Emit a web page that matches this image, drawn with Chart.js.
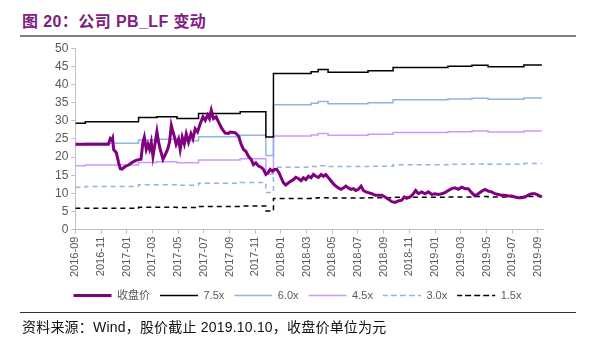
<!DOCTYPE html>
<html>
<head>
<meta charset="utf-8">
<script src="https://cdn.jsdelivr.net/npm/chart.js@4.4.0/dist/chart.umd.min.js"></script>
<style>
  body { margin: 0; width: 589px; height: 349px; background: #fff; position: relative; overflow: hidden;
         font-family: "Liberation Sans", Arial, "Noto Sans CJK SC", sans-serif; }
  #title { position: absolute; left: 22px; top: 8px; font-size: 16px; font-weight: bold; color: #80207f; letter-spacing: 0.4px; }
  #topRule { position: absolute; left: 20px; top: 35px; width: 556px; height: 2px; background: #7f7f7f; }
  #chartBox { position: absolute; left: 0; top: 38px; width: 589px; height: 275px; }
  #footRule { position: absolute; left: 20px; top: 312px; width: 556px; height: 1px; background: #333; }
  #source { position: absolute; left: 22px; top: 316px; font-size: 14px; color: #111; letter-spacing: 0.2px; }
</style>
</head>
<body>
<div id="title">图 20：公司 PB_LF 变动</div>
<div id="topRule"></div>
<div id="chartBox"><canvas id="pbChart" width="589" height="275"></canvas></div>
<div id="footRule"></div>
<div id="source">资料来源：Wind，股价截止 2019.10.10，收盘价单位为元</div>

<script>
// x values are months counted from 2016-09
const tickLabels = [
  "2016-09", "2016-11", "2017-01", "2017-03", "2017-05", "2017-07", "2017-09",
  "2017-11", "2018-01", "2018-03", "2018-05", "2018-07", "2018-09", "2018-11",
  "2019-01", "2019-03", "2019-05", "2019-07", "2019-09",
];

// closing price, [month, price]
const closeSeries = [
  [0, 23.5], [2.57, 23.5], [2.72, 25.1], [2.85, 24.6], [2.9, 25.1], [2.98, 22.1],
  [3.19, 21.2], [3.37, 18.4], [3.5, 16.8], [3.63, 16.7], [3.89, 17.4], [4.14, 17.8],
  [4.41, 18.5], [4.67, 19.0], [4.92, 19.3], [5.11, 19.4], [5.26, 24.1], [5.37, 25.5],
  [5.52, 22.1], [5.65, 23.5], [5.78, 22.1], [5.91, 24.1], [6.04, 20.2], [6.22, 24.1],
  [6.35, 27.0], [6.48, 24.1], [6.61, 22.1], [6.82, 19.4], [7.0, 20.7], [7.18, 22.1],
  [7.33, 24.1], [7.47, 28.7], [7.6, 26.9], [7.72, 25.5], [7.85, 23.5], [8.03, 25.0],
  [8.16, 22.1], [8.32, 25.5], [8.48, 23.6], [8.63, 26.4], [8.81, 24.1], [9.0, 26.4],
  [9.15, 25.0], [9.33, 27.8], [9.51, 26.9], [9.72, 29.2], [9.93, 31.1], [10.11, 30.1],
  [10.29, 31.6], [10.44, 30.6], [10.58, 32.9], [10.75, 30.6], [10.96, 31.1], [11.14, 29.7],
  [11.41, 27.8], [11.66, 26.6], [11.92, 26.5], [12.05, 26.9], [12.44, 26.7], [12.7, 25.8],
  [12.91, 23.5], [13.09, 22.1], [13.27, 21.6], [13.48, 20.2], [13.69, 19.3], [13.86, 17.9],
  [14.05, 18.4], [14.25, 17.5], [14.46, 17.2], [14.64, 16.6], [14.83, 15.2], [14.98, 15.6],
  [15.16, 16.6], [15.34, 16.1], [15.5, 16.6], [15.68, 16.6], [15.86, 15.6], [16.02, 14.3],
  [16.2, 12.9], [16.38, 12.3], [16.59, 12.9], [16.8, 13.4], [16.98, 13.8], [17.16, 14.4],
  [17.36, 14.1], [17.57, 13.5], [17.75, 14.3], [17.94, 13.8], [18.14, 14.7], [18.35, 14.3],
  [18.53, 15.2], [18.72, 14.7], [18.92, 14.4], [19.13, 15.2], [19.31, 14.7], [19.5, 15.2],
  [19.7, 14.3], [19.91, 13.4], [20.09, 12.6], [20.27, 12.0], [20.47, 11.5], [20.68, 11.1],
  [20.86, 11.5], [21.05, 12.0], [21.25, 11.5], [21.46, 11.1], [21.64, 11.3], [21.83, 10.8],
  [22.03, 11.1], [22.24, 12.0], [22.42, 10.8], [22.61, 10.4], [22.81, 10.2], [23.07, 9.9],
  [23.33, 9.5], [23.58, 9.5], [23.85, 9.5], [24.11, 9.0], [24.36, 8.4], [24.63, 7.7],
  [24.88, 7.5], [25.14, 7.9], [25.4, 8.1], [25.61, 9.0], [25.79, 8.6], [26.05, 9.0],
  [26.31, 9.9], [26.49, 10.8], [26.7, 9.9], [26.96, 10.4], [27.22, 9.9], [27.47, 10.4],
  [27.74, 9.7], [27.99, 9.9], [28.25, 9.7], [28.52, 9.9], [28.77, 10.2], [29.03, 10.8],
  [29.29, 11.3], [29.55, 11.5], [29.81, 11.1], [30.07, 11.7], [30.33, 11.3], [30.58, 11.3],
  [30.85, 10.2], [31.1, 9.3], [31.36, 9.9], [31.63, 10.6], [31.88, 11.1], [32.14, 10.6],
  [32.4, 10.4], [32.66, 9.9], [32.91, 9.7], [33.18, 9.5], [33.44, 9.5], [33.69, 9.3],
  [33.96, 9.3], [34.21, 9.0], [34.47, 8.8], [34.73, 8.8], [34.99, 9.0], [35.25, 9.5],
  [35.51, 9.9], [35.77, 9.9], [36.03, 9.5], [36.31, 9.0],
];

// PB band steps: month where each level starts
const stepMonths = [0, 0.78, 4.92, 6.35, 7.91, 9.59, 12.83, 14.83, 15.42, 18.35, 18.9, 19.67, 22.78, 24.73, 29.0, 30.87, 32.12, 34.91, 36.31];
const pb75 = [29.3, 29.7, 30.9, 31.1, 30.6, 32.0, 32.5, 25.5, 43.0, 43.5, 44.1, 43.4, 43.8, 44.7, 45.0, 45.3, 44.9, 45.4, 45.4];
const pb60 = [23.4, 23.8, 24.7, 24.9, 24.5, 25.6, 26.0, 20.4, 34.4, 34.8, 35.3, 34.7, 35.0, 35.8, 36.0, 36.2, 35.9, 36.3, 36.3];
const pb45 = [17.6, 17.8, 18.5, 18.7, 18.4, 19.2, 19.5, 15.3, 25.8, 26.1, 26.5, 26.0, 26.3, 26.8, 27.0, 27.2, 26.9, 27.2, 27.2];
const pb30 = [11.7, 11.9, 12.4, 12.4, 12.2, 12.8, 13.0, 10.2, 17.2, 17.4, 17.6, 17.4, 17.5, 17.9, 18.0, 18.1, 18.0, 18.2, 18.2];
const pb15 = [5.9, 5.9, 6.2, 6.2, 6.1, 6.4, 6.5, 5.1, 8.6, 8.7, 8.8, 8.7, 8.8, 8.9, 9.0, 9.1, 9.0, 9.1, 9.1];

function band(label, values, color, dash) {
  return {
    label: label,
    data: stepMonths.map((m, i) => ({ x: m, y: values[i] })),
    borderColor: color,
    backgroundColor: color,
    borderWidth: 1.5,
    borderDash: dash,
    stepped: "before",
    pointRadius: 0,
  };
}

const ctx = document.getElementById("pbChart").getContext("2d");
const pbChart = new Chart(ctx, {
  type: "line",
  data: {
    datasets: [
      {
        label: "收盘价",
        data: closeSeries.map((p) => ({ x: p[0], y: p[1] })),
        borderColor: "#800080",
        backgroundColor: "#800080",
        borderWidth: 3,
        pointRadius: 0,
        tension: 0,
      },
      band("7.5x", pb75, "#000000", []),
      band("6.0x", pb60, "#8eb4e3", []),
      band("4.5x", pb45, "#cc99ff", []),
      band("3.0x", pb30, "#8eb4e3", [5, 4]),
      band("1.5x", pb15, "#000000", [5, 4]),
    ],
  },
  options: {
    responsive: false,
    animation: false,
    layout: { padding: { left: 52, right: 46, top: 4, bottom: 2 } },
    plugins: {
      legend: {
        position: "bottom",
        labels: {
          boxWidth: 38,
          boxHeight: 0,
          padding: 10,
          color: "#595959",
          font: { family: "Liberation Sans, Noto Sans CJK SC", size: 11 },
        },
      },
      tooltip: { enabled: false },
    },
    scales: {
      x: {
        type: "linear",
        min: 0,
        max: 36.4,
        grid: { drawOnChartArea: false, tickLength: 4, color: "#bfbfbf" },
        border: { color: "#bfbfbf" },
        ticks: {
          stepSize: 2,
          includeBounds: false,
          autoSkip: false,
          maxRotation: 90,
          minRotation: 90,
          color: "#595959",
          font: { family: "Liberation Sans", size: 11 },
          callback: (v) => (v % 2 === 0 ? tickLabels[v / 2] : ""),
        },
      },
      y: {
        min: 0,
        max: 50,
        grid: { drawOnChartArea: false, tickLength: 4, color: "#bfbfbf" },
        border: { color: "#bfbfbf" },
        ticks: {
          stepSize: 5,
          color: "#595959",
          font: { family: "Liberation Sans", size: 12 },
        },
      },
    },
  },
});
</script>
</body>
</html>
